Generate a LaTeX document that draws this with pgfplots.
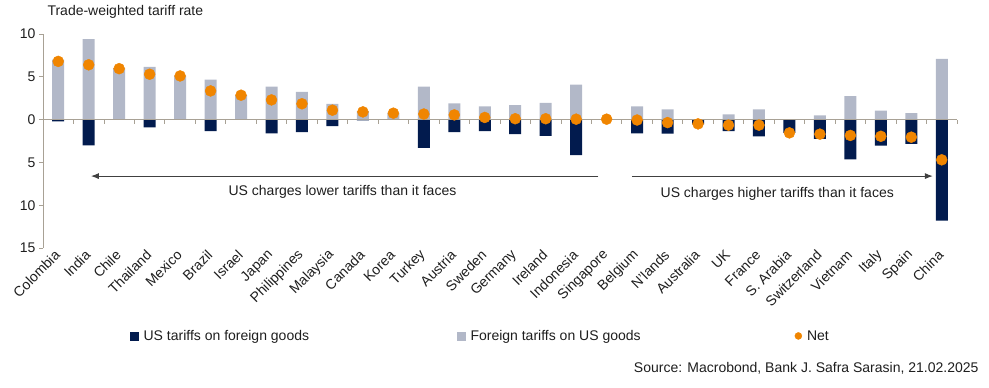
\documentclass[border=0pt]{standalone}
\usepackage{fontspec}
\setmainfont{Liberation Sans}
\usepackage{pgfplots}
\pgfplotsset{compat=1.18}
\usepackage{pgfplotstable}
\usetikzlibrary{arrows.meta}
\definecolor{usnavy}{HTML}{021B4E}
\definecolor{fgray}{HTML}{B2B8C8}
\definecolor{netorange}{HTML}{F08500}
\definecolor{axgray}{HTML}{A8A195}
\definecolor{txt}{HTML}{1E1E1E}

\pgfplotstableread{
idx gray us net
0 7.0 -0.2 6.8
1 9.4 -3.0 6.4
2 6.0 0 5.95
3 6.15 -0.9 5.3
4 5.15 0 5.1
5 4.67 -1.35 3.35
6 2.85 0 2.85
7 3.85 -1.6 2.3
8 3.23 -1.45 1.85
9 1.83 -0.75 1.1
10 1.0 -0.1 0.9
11 0.8 0 0.75
12 3.85 -3.3 0.65
13 1.9 -1.45 0.55
14 1.55 -1.35 0.25
15 1.7 -1.7 0.1
16 1.95 -1.9 0.1
17 4.1 -4.15 0.05
18 0 0 0.05
19 1.55 -1.6 -0.05
20 1.2 -1.65 -0.35
21 0 -0.55 -0.5
22 0.62 -1.35 -0.65
23 1.2 -1.95 -0.65
24 0 -1.55 -1.55
25 0.5 -2.25 -1.7
26 2.75 -4.65 -1.85
27 1.05 -3.05 -1.95
28 0.75 -2.85 -2.05
29 7.1 -11.8 -4.7
}\data

\pgfplotsset{base/.style={scale only axis, width=914pt, height=214pt,
  xmin=-0.5, xmax=29.5, ymin=-15, ymax=10,
  at={(43pt,140pt)}, anchor=south west,
  font=\fontsize{14}{17}\selectfont, tick label style={text=txt}}}

\begin{document}
\begin{tikzpicture}[font=\fontsize{14}{17}\selectfont, text=txt]
\begin{axis}[base,
  axis y line=left, axis x line=bottom,
  axis line style={-, axgray, line width=0.8pt},
  x axis line style={draw=none},
  ytick={-15,-10,-5,0,5,10}, yticklabels={15,10,5,0,5,10},
  y tick style={axgray, line width=0.8pt},
  tick align=outside, major tick length=4pt,
  xtick={0,...,29},
  xticklabels={Colombia,India,Chile,Thailand,Mexico,Brazil,Israel,Japan,Philippines,Malaysia,Canada,Korea,Turkey,Austria,Sweden,Germany,Ireland,Indonesia,Singapore,Belgium,N'lands,Australia,UK,France,S. Arabia,Switzerland,Vietnam,Italy,Spain,China},
  x tick style={draw=none},
  xticklabel style={rotate=45, anchor=east, inner sep=1pt},
  ybar, bar width=12pt, bar shift=0pt]
\addplot[fill=fgray, draw=none] table[x=idx,y=gray]{\data};
\addplot[fill=usnavy, draw=none] table[x=idx,y=us]{\data};
\end{axis}
\begin{axis}[base,
  axis x line=middle, axis y line=none,
  axis line style={-, axgray, line width=0.8pt},
  xtick={-0.5,0.5,...,29.5}, xticklabels={},
  x tick style={axgray, line width=0.8pt},
  tick align=outside, major tick length=4pt,
  ytick=\empty,
  legend columns=3,
  legend style={at={(axis description cs:0.0952,-0.411)}, anchor=west, draw=none, fill=none, inner sep=0pt,
    /tikz/every odd column/.append style={column sep=3pt},
    /tikz/column 2/.style={column sep=146pt},
    /tikz/column 4/.style={column sep=152pt}},
  ]
\addlegendimage{legend image code/.code={\fill[usnavy] (0pt,-4pt) rectangle (8pt,4pt);}}
\addlegendimage{legend image code/.code={\fill[fgray] (0pt,-4pt) rectangle (8pt,4pt);}}
\addplot[only marks, mark=*, mark size=5.5pt, color=netorange,
  legend image code/.code={\fill[netorange] (4pt,0pt) circle (3.5pt);}] table[x=idx,y=net]{\data};
\legend{US tariffs on foreign goods, Foreign tariffs on US goods, Net}
\draw[txt!85, line width=1pt, -{Latex[length=8pt,width=6pt]}] (axis cs:17.73,-6.6) -- (axis cs:1.07,-6.6);
\draw[txt!85, line width=1pt, -{Latex[length=8pt,width=6pt]}] (axis cs:18.83,-6.6) -- (axis cs:28.71,-6.6);
\node[txt] at (axis cs:9.33,-8.5) {US charges lower tariffs than it faces};
\node[txt] at (axis cs:23.6,-8.7) {US charges higher tariffs than it faces};
\end{axis}
\node[anchor=west, txt] at (44pt,375.7pt) {Trade-weighted tariff rate};
\node[anchor=east, txt] at (982pt,20pt) {Source: Macrobond, Bank J. Safra Sarasin, 21.02.2025};
\pgfresetboundingbox
\path (0,0) rectangle (989pt,388pt);
\end{tikzpicture}
\end{document}
